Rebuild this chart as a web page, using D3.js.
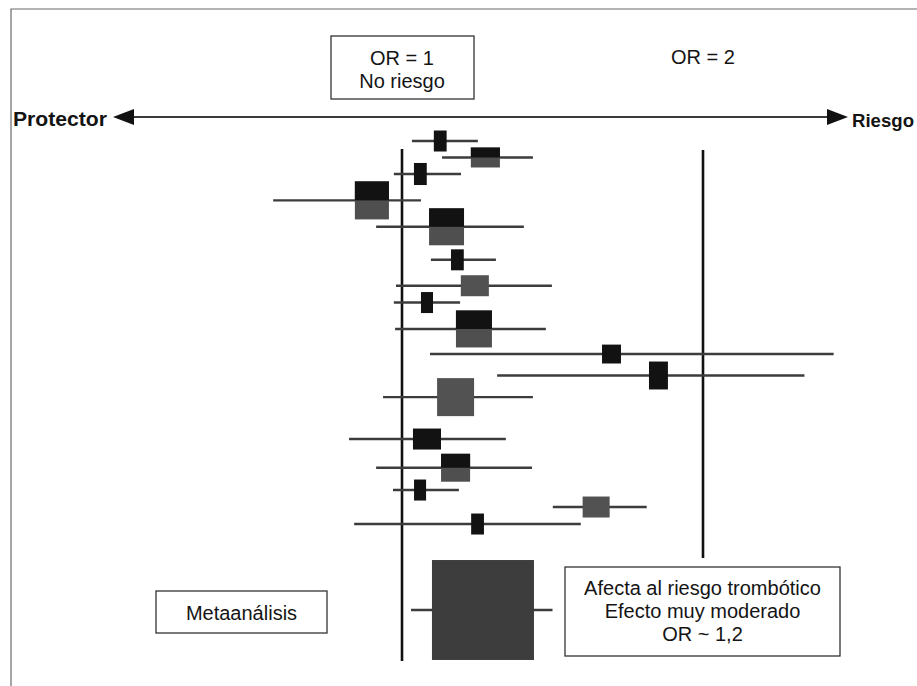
<!DOCTYPE html>
<html><head><meta charset="utf-8">
<script src="https://cdn.jsdelivr.net/npm/d3@7"></script>
<style>
body{margin:0;background:#fff}
svg{display:block;background:#fff}
text{font-family:"Liberation Sans",Arial,Helvetica,sans-serif;fill:#141414}
</style>
</head><body>
<svg id="c" width="917" height="686"></svg>
<script>
// ---- Data ----
const estudios   = ["E1","E2","E3","E4","E5","E6","E7","E8","E9","E10","E11","E12","E13","E14","E15","E16","E17","Metaanálisis"];
const orPuntual  = [1.127,1.277,1.061,0.900,1.148,1.184,1.242,1.083,1.239,1.696,1.852,1.178,1.083,1.178,1.060,1.645,1.251,1.269];
const icInferior = [1.033,1.133,0.973,0.572,0.914,1.096,0.980,0.973,0.977,1.093,1.316,0.937,0.824,0.914,0.970,1.501,0.841,1.030];
const icSuperior = [1.252,1.435,1.196,1.063,1.405,1.312,1.498,1.193,1.478,2.434,2.337,1.435,1.345,1.432,1.189,1.813,1.594,1.500];
const filas      = [0,1,2,3.6,5.2,7.2,8.77,9.79,11.39,12.91,14.21,15.52,18.06,19.8,21.15,22.18,23.21,28.42];
const pesoAncho  = [1.0,2.27,1.0,2.66,2.73,1.0,2.19,0.94,2.81,1.48,1.48,2.89,2.19,2.27,0.94,2.11,1.0,7.97];
const pesoAlto   = [1.0,0.95,1.05,1.81,1.76,1.0,1.0,1.0,1.76,0.90,1.33,1.81,1.0,1.33,1.0,1.0,1.0,4.76];
const tono       = [0,1,0,1,1,0,2,0,1,0,0,2,0,1,0,2,0,3]; // 0 negro, 1 mixto, 2 trama gris, 3 trama metaanálisis
const ticksOR    = [1, 2];
const etiquetasOR = ["OR = 1", "OR = 2"];
const textoNoRiesgo = "No riesgo";
const textoConclusion = ["Afecta al riesgo trombótico", "Efecto muy moderado", "OR ~ 1,2"];

const datos = estudios.map((e,i)=>({e, or:orPuntual[i], lo:icInferior[i], hi:icSuperior[i], fila:filas[i], w:pesoAncho[i], h:pesoAlto[i], t:tono[i]}));

// ---- Scales ----
const x = d3.scaleLinear().domain([1,2]).range([402,703]);
const y = d3.scaleLinear().domain([0,28.42]).range([141,610]);
const wS = d3.scaleLinear().domain([0,10]).range([0,128]);
const hS = d3.scaleLinear().domain([0,10]).range([0,210]);

const svg = d3.select("#c");
const FS = 20;

// outer frame (top + left)
svg.append("path").attr("d","M11,686 V9 H917").attr("fill","none").attr("stroke","#6a6a6a").attr("stroke-width",1.2);

// OR = 1 box
svg.append("rect").attr("x",331).attr("y",36).attr("width",143).attr("height",63)
  .attr("fill","#fff").attr("stroke","#333").attr("stroke-width",1.3);
svg.append("text").attr("x",x(ticksOR[0])).attr("y",65).attr("text-anchor","middle").attr("font-size",FS).text(etiquetasOR[0]);
svg.append("text").attr("x",x(ticksOR[0])).attr("y",88).attr("text-anchor","middle").attr("font-size",FS).text(textoNoRiesgo);
svg.append("text").attr("x",x(ticksOR[1])).attr("y",64).attr("text-anchor","middle").attr("font-size",FS).text(etiquetasOR[1]);

// Protector / Riesgo arrow
const ay = 117;
svg.append("line").attr("x1",130).attr("x2",831).attr("y1",ay).attr("y2",ay).attr("stroke","#3a3a3a").attr("stroke-width",2);
svg.append("path").attr("d",`M113,${ay} L134,${ay-8} L134,${ay+8} Z`).attr("fill","#111");
svg.append("path").attr("d",`M848,${ay} L827,${ay-8} L827,${ay+8} Z`).attr("fill","#111");
svg.append("text").attr("x",13).attr("y",126).attr("font-size",20.5).attr("font-weight","bold")
  .attr("textLength",94).attr("lengthAdjust","spacingAndGlyphs").text("Protector");
svg.append("text").attr("x",852).attr("y",127).attr("font-size",19).attr("font-weight","bold")
  .attr("textLength",62).attr("lengthAdjust","spacingAndGlyphs").text("Riesgo");

// reference lines
svg.append("line").attr("x1",x(1)).attr("x2",x(1)).attr("y1",149).attr("y2",661).attr("stroke","#111").attr("stroke-width",2.6);
svg.append("line").attr("x1",x(2)).attr("x2",x(2)).attr("y1",150).attr("y2",558).attr("stroke","#111").attr("stroke-width",2.6);

// confidence intervals
svg.append("g").selectAll("line").data(datos).join("line")
  .attr("x1",d=>x(d.lo)).attr("x2",d=>x(d.hi))
  .attr("y1",d=>y(d.fila)).attr("y2",d=>y(d.fila))
  .attr("stroke","#3c3c3c").attr("stroke-width",2.4);

// boxes
const colorTono = ["#121212","#4f4f4f","#525252","#3d3d3d"];
const g = svg.append("g");
g.selectAll("rect.full").data(datos).join("rect").attr("class","full")
  .attr("x",d=>x(d.or)-wS(d.w)/2).attr("y",d=>y(d.fila)-hS(d.h)/2)
  .attr("width",d=>wS(d.w)).attr("height",d=>hS(d.h))
  .attr("fill",d=>colorTono[d.t]);
g.selectAll("rect.top").data(datos.filter(d=>d.t===1)).join("rect").attr("class","top")
  .attr("x",d=>x(d.or)-wS(d.w)/2).attr("y",d=>y(d.fila)-hS(d.h)/2)
  .attr("width",d=>wS(d.w)).attr("height",d=>hS(d.h)/2)
  .attr("fill",colorTono[0]);

// Metaanálisis label box
svg.append("rect").attr("x",156).attr("y",591).attr("width",171).attr("height",42)
  .attr("fill","#fff").attr("stroke","#333").attr("stroke-width",1.3);
svg.append("text").attr("x",241.5).attr("y",620).attr("text-anchor","middle").attr("font-size",FS).text(estudios[estudios.length-1]);

// conclusion box
svg.append("rect").attr("x",565).attr("y",567).attr("width",275).attr("height",89)
  .attr("fill","#fff").attr("stroke","#333").attr("stroke-width",1.3);
svg.append("g").selectAll("text").data(textoConclusion).join("text")
  .attr("x",702.5).attr("y",(d,i)=>595+i*23).attr("text-anchor","middle").attr("font-size",FS).text(d=>d);
</script>
</body></html>
